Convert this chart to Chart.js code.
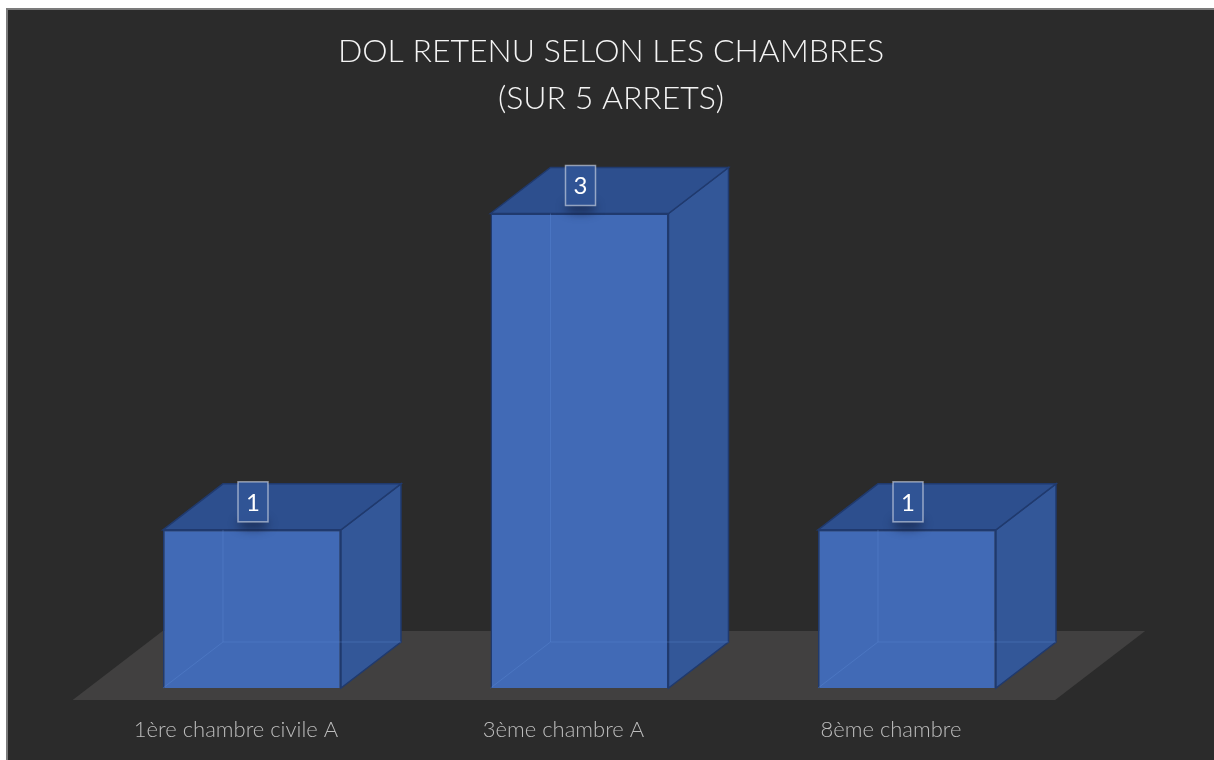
<!DOCTYPE html>
<html><head><meta charset="utf-8">
<script src="https://cdn.jsdelivr.net/npm/chart.js@4.4.0/dist/chart.umd.min.js"></script>
<style>
html,body{margin:0;padding:0;background:#fff;overflow:hidden;width:1214px;height:760px;}
#frame{position:absolute;left:6px;top:8px;width:1208px;height:752px;border-top:2px solid #7b7b7b;border-left:2px solid #7b7b7b;background:#2b2b2b;}
#wrap{position:absolute;left:0;top:0;width:1206px;height:750px;}
</style></head><body>
<div id="frame"><div id="wrap"><canvas id="c"></canvas></div></div>
<script>
const categories = ['1ère chambre civile A', '3ème chambre A', '8ème chambre'];
const values = [1, 3, 1];
const titleLines = ['DOL RETENU SELON LES CHAMBRES', '(SUR 5 ARRETS)'];

const FRONT = 'rgb(65,106,182)';
const TOP = 'rgb(45,79,142)';
const SIDE = 'rgb(51,87,152)';
const EDGE = 'rgb(32,58,110)';
const FLOOR = 'rgb(65,64,64)';
const DEPTH_X = 0.337, DEPTH_Y = -0.2584;

function poly(ctx, pts, fill, stroke) {
  ctx.beginPath();
  ctx.moveTo(pts[0][0], pts[0][1]);
  for (let i = 1; i < pts.length; i++) ctx.lineTo(pts[i][0], pts[i][1]);
  ctx.closePath();
  if (fill) { ctx.fillStyle = fill; ctx.fill(); }
  if (stroke) { ctx.strokeStyle = stroke; ctx.lineWidth = 1.5; ctx.stroke(); }
}

const cube3d = {
  id: 'cube3d',
  beforeDatasetsDraw(chart) {
    const { ctx, chartArea: a, scales: { y } } = chart;
    const meta = chart.getDatasetMeta(0);
    const w = meta.data[0].width;
    const dx = w * DEPTH_X, dy = w * DEPTH_Y;
    const y0 = y.getPixelForValue(0);
    ctx.save();
    const f = -0.26, b = 1.24;
    poly(ctx, [
      [a.left + f * dx, y0 + f * dy], [a.right + f * dx, y0 + f * dy],
      [a.right + b * dx, y0 + b * dy], [a.left + b * dx, y0 + b * dy]
    ], FLOOR, null);
    meta.data.forEach(el => {
      const l = el.x - el.width / 2, r = el.x + el.width / 2, t = el.y, bs = el.base;
      poly(ctx, [[r, t], [r + dx, t + dy], [r + dx, bs + dy], [r, bs]], SIDE, EDGE);
      poly(ctx, [[l, t], [l + dx, t + dy], [r + dx, t + dy], [r, t]], TOP, EDGE);
    });
    ctx.restore();
  },
  afterDatasetsDraw(chart) {
    const { ctx } = chart;
    const meta = chart.getDatasetMeta(0);
    const w = meta.data[0].width;
    const dx = w * DEPTH_X, dy = w * DEPTH_Y;
    ctx.save();
    meta.data.forEach((el, i) => {
      const l = el.x - el.width / 2, r = el.x + el.width / 2, t = el.y, bs = el.base;
      ctx.strokeStyle = 'rgba(95,140,215,0.35)';
      ctx.lineWidth = 1;
      ctx.beginPath();
      ctx.moveTo(l + dx, t); ctx.lineTo(l + dx, bs + dy); ctx.lineTo(r, bs + dy);
      ctx.moveTo(l, bs); ctx.lineTo(l + dx, bs + dy);
      ctx.moveTo(r, bs + dy); ctx.lineTo(r + dx, bs + dy);
      ctx.stroke();
      const cx = el.x + 1, bw = 30, bh = 40, by = t - 8 - bh;
      ctx.save();
      ctx.filter = 'blur(5px)';
      ctx.fillStyle = 'rgba(15,25,55,0.55)';
      ctx.beginPath();
      ctx.ellipse(cx, t - 6, 16, 6, 0, 0, Math.PI * 2);
      ctx.fill();
      ctx.restore();
      ctx.fillStyle = 'rgba(48,84,150,0.95)';
      ctx.fillRect(cx - bw / 2, by, bw, bh);
      ctx.strokeStyle = 'rgba(220,225,235,0.6)';
      ctx.lineWidth = 1.5;
      ctx.strokeRect(cx - bw / 2, by, bw, bh);
      ctx.fillStyle = '#ffffff';
      ctx.font = '400 24px Lato';
      ctx.textAlign = 'center';
      ctx.textBaseline = 'middle';
      ctx.fillText(String(values[i]), cx, by + bh / 2 + 1);
    });
    ctx.restore();
  }
};

new Chart(document.getElementById('c'), {
  type: 'bar',
  data: {
    labels: categories,
    datasets: [{
      data: values,
      backgroundColor: FRONT,
      borderColor: EDGE,
      borderWidth: 1.5,
      barPercentage: 1,
      categoryPercentage: 0.5435
    }]
  },
  options: {
    responsive: true,
    maintainAspectRatio: false,
    animation: false,
    devicePixelRatio: 1,
    layout: { padding: 0 },
    plugins: {
      legend: { display: false },
      tooltip: { enabled: false },
      title: {
        display: true,
        text: titleLines,
        color: '#f4f4f4',
        font: { family: 'Lato', size: 32, weight: '300', lineHeight: 47 / 32 },
        padding: { top: 18.5, bottom: 11.9 }
      }
    },
    scales: {
      x: {
        grid: { display: false, drawTicks: false },
        border: { display: false },
        ticks: {
          color: '#bdbdbd',
          font: { family: 'Lato', size: 22, weight: '300' },
          padding: 28.8,
          labelOffset: -16,
          maxRotation: 0,
          autoSkip: false
        },
        afterFit: s => { s.height = 72; }
      },
      y: {
        min: 0, max: 3.5,
        grid: { display: false, drawTicks: false },
        border: { display: false },
        ticks: { display: false },
        afterFit: s => { s.width = 80.25; }
      },
      yr: {
        position: 'right',
        min: 0, max: 1,
        grid: { display: false, drawTicks: false },
        border: { display: false },
        ticks: { display: false },
        afterFit: s => { s.width = 143.25; }
      }
    }
  },
  plugins: [cube3d]
});
</script>
</body></html>
